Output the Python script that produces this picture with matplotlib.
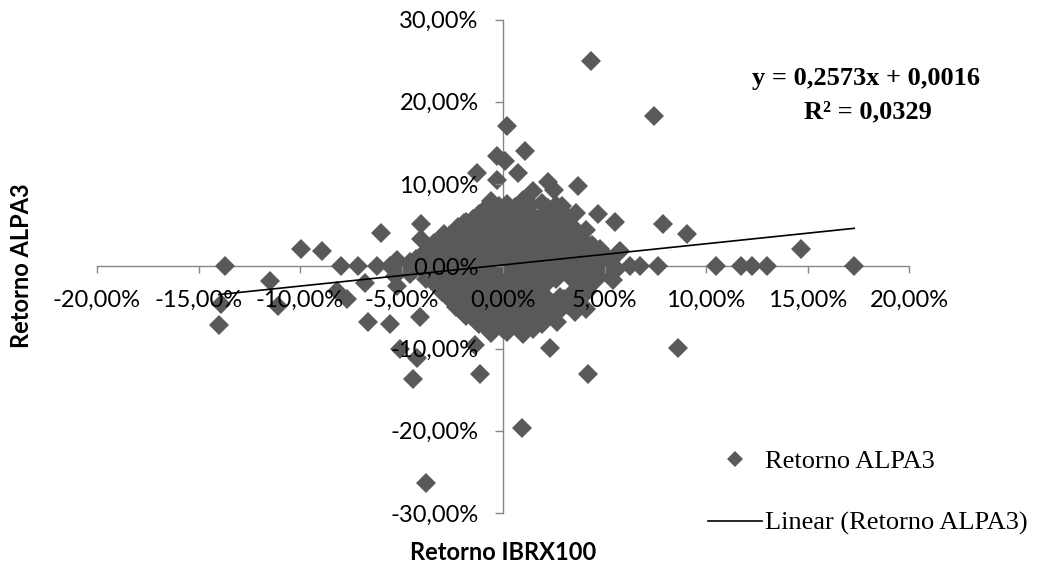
import matplotlib
matplotlib.use("Agg")
import matplotlib.pyplot as plt
from matplotlib.ticker import FuncFormatter
from matplotlib.lines import Line2D

# ---- data (returns in %) ----
outer_ibrx = [4.33, 7.44, 0.18, 1.08, -0.31, 0.10, 0.76, -1.30, -0.31, 2.20,
              3.70, 2.50, 1.50, 4.70, 5.50, 3.60, 2.90, 7.90, 9.05, 14.70,
              5.70, 4.80, 5.77, -4.05, -4.05, -6.00, -2.90, -1.90, -9.93, -8.94]
outer_alpa = [25.0, 18.3, 17.1, 14.0, 13.4, 12.8, 11.3, 11.3, 10.5, 10.3,
              9.7, 9.3, 9.1, 6.3, 5.4, 6.5, 7.3, 5.1, 3.9, 2.1,
              1.7, 2.1, 1.9, 5.1, 3.3, 4.1, 3.9, 5.3, 2.06, 1.86]

flat_ibrx = [-13.70, -7.96, -7.15, -6.23, -5.57, 6.27, 6.75, 7.66, 10.50, 11.70,
             12.25, 13.00, 17.30]
flat_alpa = [0, 0, 0, 0, 0, 0, 0, 0, 0, 0, 0, 0, 0]

low_ibrx = [-14.00, -13.90, -11.50, -11.10, -8.20, -7.70, -6.80, -5.20, -6.64, -5.57,
            -4.10, -5.08, -4.26, -4.42, -1.13, -1.40, 2.30, 4.18, 0.92, -3.80,
            2.65, 3.55, 8.60, 4.10, 5.40]
low_alpa = [-7.2, -4.6, -1.8, -4.8, -3.0, -4.0, -2.0, -2.4, -6.8, -7.0,
            -6.2, -10.0, -11.1, -13.7, -13.1, -9.6, -9.9, -13.1, -19.7, -26.4,
            -6.8, -5.6, -9.9, -5.2, -1.7]

core_ibrx = [-0.6, 0.2, 1.0, 1.9, 2.6,
             -1.0, -0.3, 0.5, 1.3, 2.2, 3.0,
             -1.5, -0.8, 0.0, 0.8, 1.6, 2.4, 3.2,
             -2.2, -1.4, -0.5, 0.3, 1.1, 1.9, 2.7, 3.5, 4.1,
             -2.6, -1.8, -1.0, -0.2, 0.6, 1.4, 2.2, 3.0, 3.8,
             -3.4, -2.7, -1.9, -1.2, -0.4, 0.4, 1.2, 2.0, 2.8, 3.6, 4.4,
             -3.8, -3.0, -2.3, -1.5, -0.7, 0.1, 0.9, 1.7, 2.5, 3.3, 4.1, 4.9,
             -5.2, -4.3, -3.5, -2.7, -1.9, -1.1, -0.3, 0.5, 1.3, 2.1, 2.9, 3.7, 4.5, 5.3,
             -4.8, -4.0, -3.2, -2.4, -1.6, -0.8, 0.0, 0.8, 1.6, 2.4, 3.2, 4.0, 4.8, 5.6,
             -5.3, -4.6, -3.7, -2.9, -2.1, -1.3, -0.5, 0.3, 1.1, 1.9, 2.7, 3.5, 4.3, 5.1,
             -3.4, -2.6, -1.8, -1.0, -0.2, 0.6, 1.4, 2.2, 3.8, 4.6,
             -3.0, -2.2, -1.4, -0.6, 0.2, 1.0, 1.8, 3.4, 4.2,
             -2.6, -1.8, -1.0, -0.2, 0.6, 1.4, 2.2, 3.0, 3.7,
             -2.3, -1.5, -0.7, 0.1, 0.9, 1.7, 2.5, 3.2,
             -1.8, -1.0, -0.2, 0.6, 1.4, 2.2,
             -1.2, -0.4, 0.4, 1.2, 1.9,
             -0.6, 0.2, 1.0]
core_alpa = [7.9, 7.6, 8.1, 7.7, 7.4,
             6.7, 7.0, 6.8, 6.6, 6.9, 6.5,
             5.8, 6.1, 5.9, 6.0, 5.7, 6.0, 5.6,
             4.8, 5.0, 4.9, 5.1, 4.7, 4.9, 5.0, 4.6, 4.4,
             3.8, 4.0, 3.9, 4.1, 3.7, 3.9, 4.0, 3.8, 3.5,
             2.8, 3.0, 2.9, 3.1, 2.8, 3.0, 2.9, 2.7, 3.0, 2.8, 2.6,
             1.9, 2.0, 1.8, 2.1, 1.9, 2.0, 1.8, 1.9, 2.1, 1.8, 1.9, 1.7,
             0.7, 0.9, 1.0, 0.8, 1.1, 0.9, 1.0, 0.8, 0.9, 1.0, 0.8, 0.9, 1.1, 0.8,
             -0.2, 0.1, -0.1, 0.2, -0.1, 0.0, 0.1, -0.2, 0.0, 0.1, -0.1, 0.0, 0.2, -0.3,
             -1.2, -0.9, -1.1, -1.0, -0.8, -1.1, -1.0, -0.9, -1.2, -1.0, -0.9, -1.1, -1.0, -0.8,
             -2.0, -2.1, -1.9, -2.2, -2.0, -1.8, -2.1, -1.9, -2.0, -1.7,
             -3.1, -2.9, -3.0, -3.2, -2.9, -3.1, -3.0, -3.3, -3.0,
             -4.0, -4.2, -3.9, -4.1, -4.0, -3.8, -4.1, -4.0, -4.2,
             -5.0, -4.9, -5.2, -5.0, -4.8, -5.1, -5.0, -4.7,
             -6.1, -5.9, -6.0, -6.2, -5.9, -6.1,
             -7.0, -7.1, -6.9, -7.2, -7.0,
             -8.1, -8.0, -8.2]

mid_ibrx = [-0.2, 0.6, 1.4, 2.2,
            -1.2, -0.4, 0.4, 1.2, 2.0, 2.8,
            -1.8, -1.0, -0.1, 0.7, 1.5, 2.3, 3.1,
            -2.2, -1.4, -0.6, 0.2, 1.0, 1.8, 2.6, 3.4,
            -3.0, -2.3, -1.5, -0.8, 0.0, 0.8, 1.6, 2.4, 3.2, 4.0,
            -3.4, -2.6, -1.9, -1.1, -0.3, 0.5, 1.3, 2.1, 2.9, 3.7, 4.5,
            -4.0, -3.1, -2.3, -1.5, -0.7, 0.1, 0.9, 1.7, 2.5, 3.3, 4.1, 4.9,
            -4.6, -3.6, -2.8, -2.0, -1.2, -0.4, 0.4, 1.2, 2.0, 2.8, 3.6, 4.4, 5.2,
            -4.4, -3.6, -2.8, -2.0, -1.2, -0.4, 0.4, 1.2, 2.0, 2.8, 3.6, 4.4, 5.2,
            -3.8, -3.0, -2.2, -1.4, -0.6, 0.2, 1.0, 1.8, 2.6, 3.4, 4.2,
            -3.2, -2.4, -1.6, -0.8, 0.0, 0.8, 1.6, 3.8,
            -2.8, -2.0, -1.2, -0.4, 0.4, 1.2, 2.0, 2.8, 3.6,
            -2.4, -1.6, -0.8, 0.0, 0.8, 1.6, 2.4, 3.2,
            -2.0, -1.2, -0.4, 0.4, 1.2, 2.0, 2.8,
            -1.4, -0.6, 0.2, 1.0, 1.8,
            -0.8, 0.0, 0.8, 1.5]
mid_alpa = [7.3, 7.2, 7.4, 7.1,
            6.3, 6.4, 6.2, 6.3, 6.5, 6.1,
            5.4, 5.5, 5.3, 5.4, 5.2, 5.5, 5.1,
            4.4, 4.3, 4.5, 4.4, 4.2, 4.4, 4.5, 4.1,
            3.4, 3.5, 3.3, 3.4, 3.6, 3.4, 3.3, 3.5, 3.4, 3.1,
            2.4, 2.5, 2.3, 2.4, 2.5, 2.4, 2.3, 2.5, 2.4, 2.2, 2.3,
            1.4, 1.5, 1.3, 1.4, 1.5, 1.3, 1.4, 1.5, 1.4, 1.3, 1.4, 1.2,
            0.5, 0.4, 0.6, 0.5, 0.4, 0.5, 0.6, 0.4, 0.5, 0.5, 0.4, 0.6, 0.3,
            -0.5, -0.6, -0.4, -0.5, -0.6, -0.5, -0.4, -0.5, -0.6, -0.5, -0.4, -0.5, -0.6,
            -1.5, -1.4, -1.6, -1.5, -1.4, -1.6, -1.5, -1.4, -1.5, -1.6, -1.4,
            -2.5, -2.6, -2.4, -2.5, -2.6, -2.4, -2.5, -2.6,
            -3.5, -3.6, -3.4, -3.5, -3.6, -3.4, -3.5, -3.7, -3.6,
            -4.5, -4.4, -4.6, -4.5, -4.4, -4.6, -4.5, -4.3,
            -5.5, -5.6, -5.4, -5.5, -5.6, -5.4, -5.3,
            -6.5, -6.6, -6.4, -6.5, -6.6,
            -7.5, -7.6, -7.4, -7.6]

trend_slope = 0.2573
trend_intercept = 0.0016
equation_text = "y = 0,2573x + 0,0016"
r2_text = "R² = 0,0329"

x_ticks = [-0.20, -0.15, -0.10, -0.05, 0.0, 0.05, 0.10, 0.15, 0.20]
y_ticks = [-0.30, -0.20, -0.10, 0.0, 0.10, 0.20, 0.30]

ibrx = [v / 100 for v in outer_ibrx + flat_ibrx + low_ibrx + core_ibrx + mid_ibrx]
alpa = [v / 100 for v in outer_alpa + flat_alpa + low_alpa + core_alpa + mid_alpa]

# ---- figure ----
W, H = 1039, 568
fig = plt.figure(figsize=(W / 100, H / 100), dpi=100)
ax = fig.add_axes([97 / W, (H - 513) / H, 812 / W, 493.5 / H])

marker_color = "#595959"
axis_color = "#868686"
sans = "Lato"
serif = "Liberation Serif"

ax.plot(ibrx, alpa, linestyle="none", marker="D", markersize=10.5,
        markerfacecolor=marker_color, markeredgewidth=0, zorder=2)

xmin, xmax = min(ibrx), max(ibrx)
ax.plot([xmin, xmax],
        [trend_slope * xmin + trend_intercept, trend_slope * xmax + trend_intercept],
        color="black", linewidth=1.2, zorder=3)

ax.set_xlim(-0.20, 0.20)
ax.set_ylim(-0.30, 0.30)
ax.set_xticks(x_ticks)
ax.set_yticks(y_ticks)
fmt = FuncFormatter(lambda v, p: f"{v * 100:.2f}%".replace(".", ",").replace("-0,00", "0,00"))
ax.xaxis.set_major_formatter(fmt)
ax.yaxis.set_major_formatter(fmt)

for s in ("top", "right"):
    ax.spines[s].set_visible(False)
ax.spines["left"].set_position(("data", 0))
ax.spines["bottom"].set_position(("data", 0))
for s in ("left", "bottom"):
    ax.spines[s].set_color(axis_color)
    ax.spines[s].set_linewidth(1.0)
    ax.spines[s].set_zorder(1)
ax.set_axisbelow(False)

ax.tick_params(axis="x", direction="out", length=5.0, width=1.0, color=axis_color,
               pad=12, labelsize=17, labelcolor="black")
ax.tick_params(axis="y", direction="out", length=5.5, width=1.0, color=axis_color,
               pad=12, labelsize=17, labelcolor="black")
for lab in ax.get_xticklabels() + ax.get_yticklabels():
    lab.set_fontfamily(sans)
ax.patch.set_alpha(0)

fig.text(503 / W, 1 - 553 / H, "Retorno IBRX100", ha="center", va="center",
         fontsize=17, fontweight="bold", family=sans)
fig.text(22 / W, 1 - 266 / H, "Retorno ALPA3", ha="center", va="center",
         rotation=90, fontsize=17, fontweight="bold", family=sans)

fig.text(866 / W, 1 - 78 / H, equation_text, ha="center", va="center",
         fontsize=19, fontweight="bold", family=serif)
fig.text(868 / W, 1 - 112 / H, r2_text, ha="center", va="center",
         fontsize=19, fontweight="bold", family=serif)

handles = [Line2D([], [], linestyle="none", marker="D", markersize=10.5,
                  markerfacecolor=marker_color, markeredgewidth=0),
           Line2D([], [], color="black", linewidth=1.2)]
labels = ["Retorno ALPA3", "Linear (Retorno ALPA3)"]
fig.legend(handles, labels, loc="center left",
           bbox_to_anchor=(708 / W, 1 - 492.5 / H), frameon=False,
           prop={"family": serif, "size": 19}, handlelength=2.05,
           handletextpad=0.12, labelspacing=1.45, borderpad=0,
           borderaxespad=0, markerscale=0.8)

fig.savefig("out.png", dpi=100)
